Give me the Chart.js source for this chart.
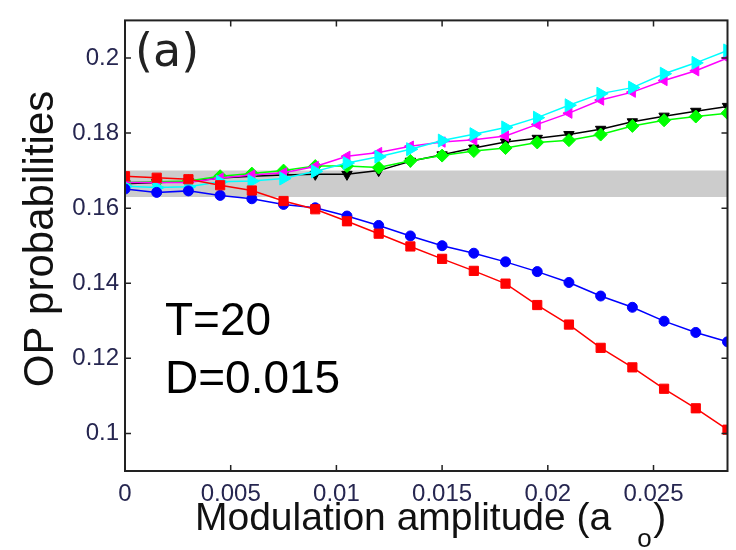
<!DOCTYPE html>
<html><head><meta charset="utf-8">
<script src="https://cdn.jsdelivr.net/npm/chart.js@4/dist/chart.umd.min.js"></script>
<style>html,body{margin:0;padding:0;background:#fff;}#wrap{width:736px;height:550px;}</style>
</head><body><div id="wrap"><canvas id="c" width="736" height="550"></canvas></div>
<script>
// ---- data ----
const xValues = [0,0.0015,0.003,0.0045,0.006,0.0075,0.009,0.0105,0.012,0.0135,0.015,0.0165,0.018,0.0195,0.021,0.0225,0.024,0.0255,0.027,0.0285];
const redSquares = [0.1685,0.1681,0.1677,0.1661,0.1647,0.1619,0.1597,0.1565,0.1532,0.1498,0.1465,0.1433,0.1399,0.1342,0.1290,0.1228,0.1176,0.1119,0.1067,0.1010];
const blueCircles = [0.1651,0.1642,0.1646,0.1634,0.1625,0.1610,0.1601,0.1579,0.1554,0.1526,0.1500,0.1480,0.1457,0.1431,0.1402,0.1366,0.1336,0.1299,0.1269,0.1244];
const cyanRight = [0.1658,0.1655,0.1657,0.1670,0.1672,0.1679,0.1698,0.1720,0.1737,0.1757,0.1780,0.1797,0.1815,0.1841,0.1874,0.1905,0.1921,0.1958,0.1987,0.2020];
const magentaLeft = [0.1668,0.1668,0.1668,0.1680,0.1688,0.1694,0.1711,0.1738,0.1748,0.1765,0.1776,0.1782,0.1792,0.1823,0.1853,0.1888,0.1909,0.1940,0.1966,0.2000];
const blackDown = [0.1665,0.1668,0.1670,0.1680,0.1685,0.1688,0.1690,0.1690,0.1700,0.1725,0.1742,0.1760,0.1776,0.1786,0.1796,0.1810,0.1830,0.1845,0.1858,0.1871];
const greenDiamonds = [0.1668,0.1670,0.1672,0.1685,0.1692,0.1700,0.1712,0.1712,0.1708,0.1726,0.1740,0.1752,0.1760,0.1775,0.1781,0.1796,0.1819,0.1834,0.1844,0.1853];
const bandLimits = [0.163, 0.170];
const xRange = [0, 0.0285];
const yRange = [0.09, 0.21];
const xTicks = [0,0.005,0.01,0.015,0.02,0.025];
const xTickLabels = ['0','0.005','0.01','0.015','0.02','0.025'];
const yTicks = [0.1,0.12,0.14,0.16,0.18,0.2];
const yTickLabels = ['0.1','0.12','0.14','0.16','0.18','0.2'];
const xTitle = 'Modulation amplitude (a';
const xTitleSub = 'o';
const yTitle = 'OP probabilities';
const panelLabel = '(a)';
const noteLines = ['T=20','D=0.015'];

const pts = arr => arr.map((v,i)=>({x:xValues[i], y:v}));
function series(data, color, style, radius, rotation, order){
  return {data: pts(data), borderColor: color, backgroundColor: color, borderWidth: 1.5,
    pointStyle: style, pointRadius: radius, pointRotation: rotation, pointBorderWidth: 1,
    pointBackgroundColor: color, pointBorderColor: color, fill: false, tension: 0, order: order};
}

const framePlugin = {
  id: 'frame',
  afterDraw(chart){
    const {ctx, chartArea: a, scales} = chart;
    const xs = scales.x, ys = scales.y;
    ctx.save();
    ctx.strokeStyle = '#222';
    ctx.lineWidth = 2;
    ctx.strokeRect(a.left, a.top, a.right - a.left, a.bottom - a.top);
    ctx.lineWidth = 1.5;
    const L = 6;
    ctx.beginPath();
    xTicks.forEach(v => {
      const px = xs.getPixelForValue(v);
      ctx.moveTo(px, a.bottom); ctx.lineTo(px, a.bottom - L);
      ctx.moveTo(px, a.top); ctx.lineTo(px, a.top + L);
    });
    yTicks.forEach(v => {
      const py = ys.getPixelForValue(v);
      ctx.moveTo(a.left, py); ctx.lineTo(a.left + L, py);
      ctx.moveTo(a.right, py); ctx.lineTo(a.right - L, py);
    });
    ctx.stroke();

    // panel label
    ctx.fillStyle = '#222';
    ctx.font = '46px "DejaVu Sans"';
    ctx.textBaseline = 'alphabetic';
    ctx.textAlign = 'left';
    ctx.fillText(panelLabel, a.left + 10, 66);

    // notes
    ctx.fillStyle = '#000';
    ctx.font = '46px "Liberation Sans"';
    ctx.fillText(noteLines[0], 165, 335);
    ctx.fillText(noteLines[1], 165, 393);

    // x title
    ctx.fillStyle = '#111';
    ctx.font = '39px "Liberation Sans"';
    const x0 = 195;
    ctx.fillText(xTitle, x0, 530);
    const w = ctx.measureText(xTitle).width;
    ctx.fillText(')', x0 + w + 42, 530);
    ctx.font = '26px "Liberation Sans"';
    ctx.fillText(xTitleSub, x0 + w + 26, 547);

    // y title
    ctx.save();
    ctx.translate(53, 239);
    ctx.rotate(-Math.PI / 2);
    ctx.font = '42px "Liberation Sans"';
    ctx.textAlign = 'center';
    ctx.fillStyle = '#111';
    ctx.fillText(yTitle, 0, 0);
    ctx.restore();
    ctx.restore();
  }
};

new Chart(document.getElementById('c'), {
  type: 'line',
  data: {
    datasets: [
      series(redSquares, '#ff0000', 'rect', 6.5, 0, 0),
      series(blueCircles, '#0000ff', 'circle', 5, 0, 1),
      series(cyanRight, '#00ffff', 'triangle', 7.5, 90, 2),
      series(magentaLeft, '#ff00ff', 'triangle', 6, -90, 3),
      series(greenDiamonds, '#00ff00', 'rectRot', 6.5, 0, 4),
      series(blackDown, '#000000', 'triangle', 6, 180, 5),
      {data: [{x: xRange[0], y: bandLimits[1]}, {x: xRange[1], y: bandLimits[1]}],
       fill: {value: bandLimits[0]}, backgroundColor: '#cccccc', borderWidth: 0, pointRadius: 0, order: 10}
    ]
  },
  options: {
    responsive: false, animation: false, devicePixelRatio: 1,
    layout: {padding: {top: 8, right: 6, left: 0, bottom: 0}},
    plugins: {legend: {display: false}, tooltip: {enabled: false}, title: {display: false}},
    scales: {
      x: {type: 'linear', min: xRange[0], max: xRange[1],
        grid: {display: false, drawTicks: false}, border: {display: false},
        afterBuildTicks: s => { s.ticks = xTicks.map(v => ({value: v})); },
        afterFit: s => { s.height = 79; },
        ticks: {padding: 9, color: '#262650', font: {family: 'Liberation Sans', size: 24},
          maxRotation: 0, autoSkip: false, callback: (v, i) => xTickLabels[i]}},
      y: {type: 'linear', min: yRange[0], max: yRange[1],
        grid: {display: false, drawTicks: false}, border: {display: false},
        afterBuildTicks: s => { s.ticks = yTicks.map(v => ({value: v})); },
        afterFit: s => { s.width = 125; },
        ticks: {padding: 6, color: '#262650', font: {family: 'Liberation Sans', size: 24},
          autoSkip: false, callback: (v, i) => yTickLabels[i]}}
    }
  },
  plugins: [framePlugin]
});
</script></body></html>
